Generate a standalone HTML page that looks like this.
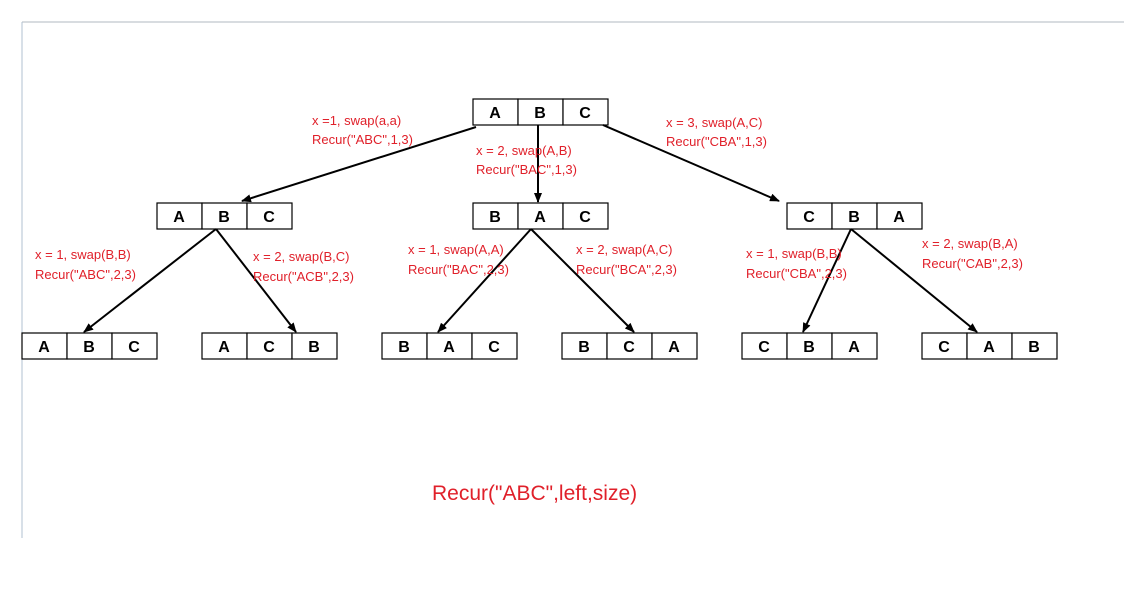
<!DOCTYPE html>
<html><head><style>
body{margin:0;background:#fff;}
svg{display:block;}
.b{fill:#fff;stroke:#000;stroke-width:1.2;}
.t{font-family:"Liberation Sans",sans-serif;font-weight:bold;font-size:16px;text-anchor:middle;}
.r{font-family:"Liberation Sans",sans-serif;font-size:13px;fill:#e0202a;}
.l{stroke:#000;stroke-width:2;marker-end:url(#a);}
</style></head><body>
<svg width="1124" height="600" xmlns="http://www.w3.org/2000/svg">
<defs><marker id="a" markerWidth="10" markerHeight="8" refX="9" refY="4" orient="auto" markerUnits="userSpaceOnUse"><path d="M0,0 L10,4 L0,8 Z" fill="#000"/></marker></defs>
<line x1="22" y1="22" x2="1124" y2="22" stroke="#b0b8c0" stroke-width="1"/>
<line x1="22" y1="22" x2="22" y2="538" stroke="#b0c0d0" stroke-width="1"/>
<g id="boxes"></g>
<!-- top -->
<g><rect class="b" x="473" y="99" width="45" height="26"/><rect class="b" x="518" y="99" width="45" height="26"/><rect class="b" x="563" y="99" width="45" height="26"/>
<text class="t" x="495" y="118">A</text><text class="t" x="540" y="118">B</text><text class="t" x="585" y="118">C</text></g>
<!-- level2 -->
<g><rect class="b" x="157" y="203" width="45" height="26"/><rect class="b" x="202" y="203" width="45" height="26"/><rect class="b" x="247" y="203" width="45" height="26"/>
<text class="t" x="179" y="222">A</text><text class="t" x="224" y="222">B</text><text class="t" x="269" y="222">C</text></g>
<g><rect class="b" x="473" y="203" width="45" height="26"/><rect class="b" x="518" y="203" width="45" height="26"/><rect class="b" x="563" y="203" width="45" height="26"/>
<text class="t" x="495" y="222">B</text><text class="t" x="540" y="222">A</text><text class="t" x="585" y="222">C</text></g>
<g><rect class="b" x="787" y="203" width="45" height="26"/><rect class="b" x="832" y="203" width="45" height="26"/><rect class="b" x="877" y="203" width="45" height="26"/>
<text class="t" x="809" y="222">C</text><text class="t" x="854" y="222">B</text><text class="t" x="899" y="222">A</text></g>
<!-- level3 -->
<g><rect class="b" x="22" y="333" width="45" height="26"/><rect class="b" x="67" y="333" width="45" height="26"/><rect class="b" x="112" y="333" width="45" height="26"/>
<text class="t" x="44" y="352">A</text><text class="t" x="89" y="352">B</text><text class="t" x="134" y="352">C</text></g>
<g><rect class="b" x="202" y="333" width="45" height="26"/><rect class="b" x="247" y="333" width="45" height="26"/><rect class="b" x="292" y="333" width="45" height="26"/>
<text class="t" x="224" y="352">A</text><text class="t" x="269" y="352">C</text><text class="t" x="314" y="352">B</text></g>
<g><rect class="b" x="382" y="333" width="45" height="26"/><rect class="b" x="427" y="333" width="45" height="26"/><rect class="b" x="472" y="333" width="45" height="26"/>
<text class="t" x="404" y="352">B</text><text class="t" x="449" y="352">A</text><text class="t" x="494" y="352">C</text></g>
<g><rect class="b" x="562" y="333" width="45" height="26"/><rect class="b" x="607" y="333" width="45" height="26"/><rect class="b" x="652" y="333" width="45" height="26"/>
<text class="t" x="584" y="352">B</text><text class="t" x="629" y="352">C</text><text class="t" x="674" y="352">A</text></g>
<g><rect class="b" x="742" y="333" width="45" height="26"/><rect class="b" x="787" y="333" width="45" height="26"/><rect class="b" x="832" y="333" width="45" height="26"/>
<text class="t" x="764" y="352">C</text><text class="t" x="809" y="352">B</text><text class="t" x="854" y="352">A</text></g>
<g><rect class="b" x="922" y="333" width="45" height="26"/><rect class="b" x="967" y="333" width="45" height="26"/><rect class="b" x="1012" y="333" width="45" height="26"/>
<text class="t" x="944" y="352">C</text><text class="t" x="989" y="352">A</text><text class="t" x="1034" y="352">B</text></g>
<!-- arrows -->
<line class="l" x1="476" y1="127" x2="242" y2="201"/>
<line class="l" x1="538" y1="125" x2="538" y2="202"/>
<line class="l" x1="603" y1="125" x2="779" y2="201"/>
<line class="l" x1="216" y1="229" x2="84" y2="332"/>
<line class="l" x1="216" y1="229" x2="296" y2="332"/>
<line class="l" x1="531" y1="229" x2="438" y2="332"/>
<line class="l" x1="531" y1="229" x2="634" y2="332"/>
<line class="l" x1="851" y1="229" x2="803" y2="332"/>
<line class="l" x1="851" y1="229" x2="977" y2="332"/>
<!-- labels -->
<text class="r" x="312" y="125">x =1, swap(a,a)</text><text class="r" x="312" y="144">Recur("ABC",1,3)</text>
<text class="r" x="476" y="155">x = 2, swap(A,B)</text><text class="r" x="476" y="174">Recur("BAC",1,3)</text>
<text class="r" x="666" y="127">x = 3, swap(A,C)</text><text class="r" x="666" y="146">Recur("CBA",1,3)</text>
<text class="r" x="35" y="259">x = 1, swap(B,B)</text><text class="r" x="35" y="279">Recur("ABC",2,3)</text>
<text class="r" x="253" y="261">x = 2, swap(B,C)</text><text class="r" x="253" y="281">Recur("ACB",2,3)</text>
<text class="r" x="408" y="254">x = 1, swap(A,A)</text><text class="r" x="408" y="274">Recur("BAC",2,3)</text>
<text class="r" x="576" y="254">x = 2, swap(A,C)</text><text class="r" x="576" y="274">Recur("BCA",2,3)</text>
<text class="r" x="746" y="258">x = 1, swap(B,B)</text><text class="r" x="746" y="278">Recur("CBA",2,3)</text>
<text class="r" x="922" y="248">x = 2, swap(B,A)</text><text class="r" x="922" y="268">Recur("CAB",2,3)</text>
<text x="432" y="500" style="font-family:'Liberation Sans',sans-serif;font-size:21px;fill:#e0202a">Recur("ABC",left,size)</text>
</svg>
</body></html>
